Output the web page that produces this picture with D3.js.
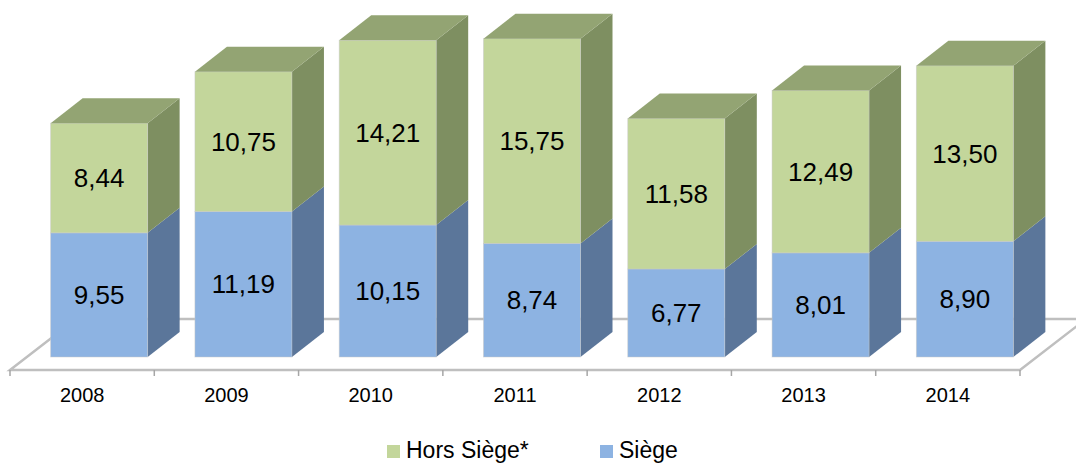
<!DOCTYPE html>
<html>
<head>
<meta charset="utf-8">
<script src="https://cdn.jsdelivr.net/npm/d3@7"></script>
<style>
  body { margin: 0; background: #fff; }
  text { font-family: "Liberation Sans", Arial, sans-serif; fill: #000; }
</style>
</head>
<body>
<svg width="1076" height="463"></svg>
<script>
const years = ['2008', '2009', '2010', '2011', '2012', '2013', '2014'];
const siege = [9.55, 11.19, 10.15, 8.74, 6.77, 8.01, 8.90];
const horsSiege = [8.44, 10.75, 14.21, 15.75, 11.58, 12.49, 13.50];
const seriesNames = ['Hors Siège*', 'Siège'];

const svg = d3.select('svg');

const floorY = 370;
const floorDepth = { dx: 66, dy: -51 };
const barDepth = { dx: 32, dy: -25 };
const barShift = { dx: 17, dy: -13 }; // front face of bars sits inside the floor

const colors = {
  blue: { front: '#8db3e2', side: '#5b769a', top: '#7594bb' },
  green: { front: '#c3d69b', side: '#7e8f61', top: '#93a473' }
};

const fmt = v => d3.format('.2f')(v).replace('.', ',');

const xScale = d3.scaleBand()
  .domain(years)
  .range([10, 1020])
  .paddingInner(0)
  .paddingOuter(0);

const barWidth = 97;

const yScale = d3.scaleLinear()
  .domain([0, 25])
  .range([floorY, floorY - 25 * 13]);

// floor
const x0 = xScale.range()[0], x1 = xScale.range()[1];
svg.append('path')
  .attr('d', `M${x0},${floorY} L${x1},${floorY} L${x1 + floorDepth.dx},${floorY + floorDepth.dy} L${x0 + floorDepth.dx},${floorY + floorDepth.dy} Z`)
  .attr('fill', '#fff')
  .attr('stroke', '#bfbfbf')
  .attr('stroke-width', 2.5);

// x axis
const xAxis = d3.axisBottom(xScale).tickSize(0).tickPadding(14);
const xAxisG = svg.append('g')
  .attr('transform', `translate(0, ${floorY})`)
  .call(xAxis);
xAxisG.select('.domain').remove();
xAxisG.selectAll('text')
  .style('font-size', '20px')
  .style('font-family', '"Liberation Sans", Arial, sans-serif')
  .attr('fill', '#000')
  .attr('dy', '0.9em');

// boundary ticks
const tickXs = years.map(y => xScale(y)).concat([x1]);
svg.selectAll('.tickmark').data(tickXs).enter().append('line')
  .attr('x1', d => d).attr('x2', d => d)
  .attr('y1', floorY).attr('y2', floorY + 6)
  .attr('stroke', '#a6a6a6')
  .attr('stroke-width', 1.5);

// bars
const segments = [];
years.forEach((yr, i) => {
  const left = xScale(yr) + (xScale.bandwidth() - barWidth) / 2 + barShift.dx;
  segments.push({ yr, left, v0: 0, v1: siege[i], c: colors.blue, val: siege[i], last: false });
  segments.push({ yr, left, v0: siege[i], v1: siege[i] + horsSiege[i], c: colors.green, val: horsSiege[i], last: true });
});

const g = svg.append('g');

segments.forEach(s => {
  const xl = s.left, xr = s.left + barWidth;
  const yb = yScale(s.v0) + barShift.dy;
  const yt = yScale(s.v1) + barShift.dy;
  const seg = g.append('g');
  // side face
  seg.append('path')
    .attr('d', `M${xr},${yb} L${xr + barDepth.dx},${yb + barDepth.dy} L${xr + barDepth.dx},${yt + barDepth.dy} L${xr},${yt} Z`)
    .attr('fill', s.c.side);
  // front face
  seg.append('rect')
    .attr('x', xl).attr('y', yt)
    .attr('width', barWidth).attr('height', yb - yt)
    .attr('fill', s.c.front)
    .attr('stroke', 'rgba(200,200,200,0.6)')
    .attr('stroke-width', 0.8);
  if (s.last) {
    seg.append('path')
      .attr('d', `M${xl},${yt} L${xl + barDepth.dx},${yt + barDepth.dy} L${xr + barDepth.dx},${yt + barDepth.dy} L${xr},${yt} Z`)
      .attr('fill', s.c.top);
  }
  seg.append('text')
    .attr('x', xl + barWidth / 2)
    .attr('y', (yt + yb) / 2)
    .attr('text-anchor', 'middle')
    .attr('dominant-baseline', 'central')
    .style('font-size', '26px')
    .text(fmt(s.val));
});

// legend
const legend = [
  { name: seriesNames[0], color: colors.green.front, x: 387 },
  { name: seriesNames[1], color: colors.blue.front, x: 600 }
];
const lg = svg.append('g');
legend.forEach(l => {
  lg.append('rect')
    .attr('x', l.x).attr('y', 445)
    .attr('width', 13).attr('height', 13)
    .attr('fill', l.color);
  lg.append('text')
    .attr('x', l.x + 19).attr('y', 458)
    .style('font-size', '23px')
    .text(l.name);
});
</script>
</body>
</html>
